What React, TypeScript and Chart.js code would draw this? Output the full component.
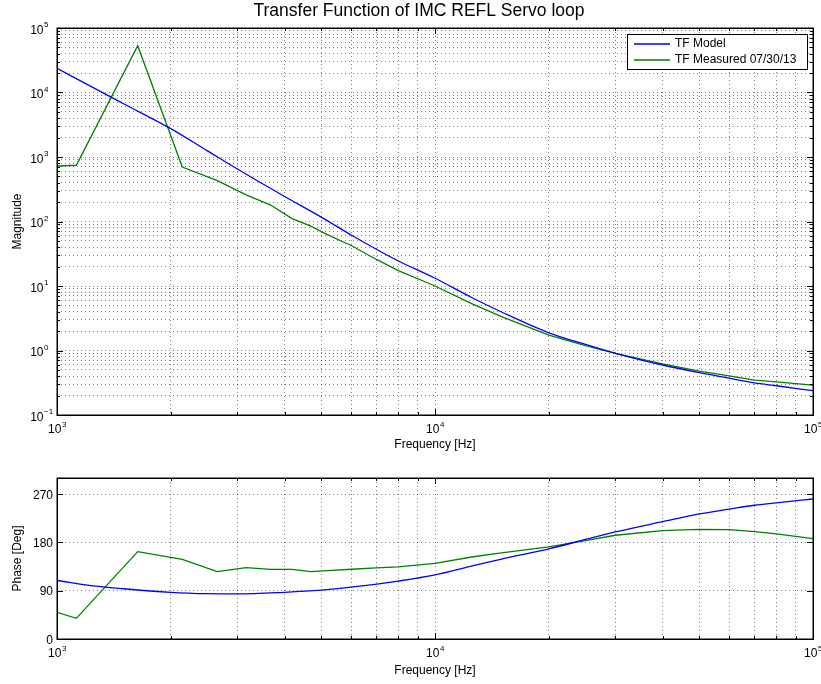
import React, { useEffect, useRef } from "react";
import { Chart, registerables } from "chart.js";

Chart.register(...registerables);

const TITLE = "Transfer Function of IMC REFL Servo loop";
const X_LABEL = "Frequency [Hz]";
const MAG_LABEL = "Magnitude";
const PHASE_LABEL = "Phase [Deg]";
const SERIES_NAMES = ["TF Model", "TF Measured 07/30/13"];

// Model transfer function (blue)
const modelFreq = [1000, 1250, 1500, 2000, 2500, 3000, 4000, 5000, 6000, 8000, 10000, 12500, 15000, 20000, 25000, 30000, 40000, 50000, 60000, 70000, 80000, 100000];
const modelMag = [23700, 11800, 6700, 2750, 1245, 652, 244, 117, 61.8, 24.4, 13.2, 6.64, 3.95, 1.88, 1.24, 0.906, 0.596, 0.453, 0.372, 0.315, 0.284, 0.238];
const modelPhase = [109, 99, 93.6, 87, 84.4, 83.9, 87, 91, 96.5, 108, 119.3, 135.8, 148.9, 168, 185.5, 199.5, 218.6, 233, 241.9, 249.2, 253.6, 260.9];

// Measured transfer function 07/30/13 (green)
const measFreq = [1000, 1125, 1635, 2145, 2655, 3165, 3675, 4185, 4695, 5205, 6000, 7000, 8000, 10000, 12500, 15000, 20000, 25000, 30000, 40000, 50000, 60000, 70000, 80000, 100000];
const measMag = [725, 745, 53200, 700, 430, 258, 180, 111, 85, 62, 42.5, 25.8, 17.3, 10.0, 5.33, 3.34, 1.73, 1.19, 0.9, 0.618, 0.48, 0.404, 0.347, 0.326, 0.29];
const measPhase = [49.7, 38.5, 162.7, 148.5, 125.4, 132.9, 129.8, 129.8, 125.5, 127.4, 130, 132.5, 134.5, 141, 152.8, 160.6, 171.5, 183.5, 193.3, 201.8, 204.4, 203.7, 200, 195.8, 186.9];

// Axis ticks
const xDecades = [3, 4, 5];
const magDecades = [-1, 0, 1, 2, 3, 4, 5];
const phaseTicks = [0, 90, 180, 270];
const phaseMin = 0;
const phaseMax = 300;

const FONT = "'Liberation Sans', Arial, Helvetica, sans-serif";
const BLUE = "#0000ff";
const GREEN = "#008000";
const GRID = "rgba(0,0,0,0.5)";

function logTickValues(decades: number[]): number[] {
  const vals: number[] = [];
  for (let i = 0; i < decades.length - 1; i++) {
    for (let k = 1; k <= 9; k++) vals.push(k * Math.pow(10, decades[i]));
  }
  vals.push(Math.pow(10, decades[decades.length - 1]));
  return vals;
}

function isDecade(v: number) {
  const l = Math.log10(v);
  return Math.abs(l - Math.round(l)) < 1e-9;
}

function drawPow(ctx: CanvasRenderingContext2D, exp: number, x: number, y: number, mode: "center" | "right", expDy: number) {
  const base = "10";
  const e = exp < 0 ? "\u2212" + Math.abs(exp) : String(exp);
  ctx.font = `12px ${FONT}`;
  const bw = ctx.measureText(base).width;
  ctx.font = `8px ${FONT}`;
  const ew = ctx.measureText(e).width;
  const bx = mode === "center" ? x - (bw + ew) / 2 : x - bw;
  ctx.textAlign = "left";
  ctx.textBaseline = "alphabetic";
  ctx.fillStyle = "#000";
  ctx.font = `12px ${FONT}`;
  ctx.fillText(base, bx, y);
  ctx.font = `8px ${FONT}`;
  ctx.fillText(e, bx + bw + 0.5, y - expDy);
}

function drawFrame(chart: any, yIsLog: boolean) {
  const { ctx, chartArea } = chart;
  const { left, right, top, bottom } = chartArea;
  const xs = chart.scales.x;
  const ys = chart.scales.y;
  ctx.save();
  ctx.strokeStyle = "#000";
  ctx.lineWidth = 1;
  // tick marks inward
  ctx.beginPath();
  xs.ticks.forEach((t: any) => {
    const px = Math.round(xs.getPixelForValue(t.value)) + 0.5;
    const len = isDecade(t.value) ? 6 : 3;
    ctx.moveTo(px, bottom);
    ctx.lineTo(px, bottom - len);
    ctx.moveTo(px, top);
    ctx.lineTo(px, top + len);
  });
  ys.ticks.forEach((t: any) => {
    const py = Math.round(ys.getPixelForValue(t.value)) + 0.5;
    const len = yIsLog ? (isDecade(t.value) ? 6 : 3) : 6;
    ctx.moveTo(left, py);
    ctx.lineTo(left + len, py);
    ctx.moveTo(right, py);
    ctx.lineTo(right - len, py);
  });
  ctx.stroke();
  // box
  ctx.lineWidth = 1.5;
  ctx.strokeRect(Math.round(left) + 0.25, Math.round(top) + 0.25, Math.round(right - left), Math.round(bottom - top));
  // x tick labels
  xs.ticks.forEach((t: any) => {
    if (!isDecade(t.value)) return;
    const px = xs.getPixelForValue(t.value);
    drawPow(ctx, Math.round(Math.log10(t.value)), px, bottom + 18, "center", 6);
  });
  // y tick labels
  ys.ticks.forEach((t: any) => {
    const py = ys.getPixelForValue(t.value);
    if (yIsLog) {
      if (!isDecade(t.value)) return;
      drawPow(ctx, Math.round(Math.log10(t.value)), 43.5, py + 5.5, "right", 6.5);
    } else {
      ctx.font = `12px ${FONT}`;
      ctx.fillStyle = "#000";
      ctx.textAlign = "right";
      ctx.textBaseline = "alphabetic";
      ctx.fillText(String(t.value), 53, py + 4.5);
    }
  });
  ctx.restore();
}

const magPlugin = {
  id: "magFrame",
  afterDraw(chart: any) {
    drawFrame(chart, true);
    const { ctx } = chart;
    ctx.save();
    // title
    ctx.font = `17.5px ${FONT}`;
    ctx.fillStyle = "#000";
    ctx.textAlign = "center";
    ctx.textBaseline = "alphabetic";
    ctx.fillText(TITLE, 419, 16);
    // legend
    const lx = 627, ly = 34, lw = 180, lh = 35;
    ctx.fillStyle = "#fff";
    ctx.fillRect(lx, ly, lw, lh);
    ctx.strokeStyle = "#000";
    ctx.lineWidth = 1;
    ctx.strokeRect(lx + 0.5, ly + 0.5, lw, lh);
    const colors = [BLUE, GREEN];
    const rows = [44, 60];
    SERIES_NAMES.forEach((name, i) => {
      ctx.strokeStyle = colors[i];
      ctx.lineWidth = 1.3;
      ctx.beginPath();
      ctx.moveTo(634, rows[i]);
      ctx.lineTo(670, rows[i]);
      ctx.stroke();
      ctx.fillStyle = "#000";
      ctx.font = `12px ${FONT}`;
      ctx.textAlign = "left";
      ctx.textBaseline = "middle";
      ctx.fillText(name, 675, rows[i]);
    });
    ctx.restore();
  },
};

const phasePlugin = {
  id: "phaseFrame",
  afterDraw(chart: any) {
    drawFrame(chart, false);
  },
};

function lineDataset(label: string, xs: number[], ys: number[], color: string, smooth: boolean) {
  return {
    label,
    data: xs.map((f, i) => ({ x: f, y: ys[i] })),
    borderColor: color,
    backgroundColor: color,
    borderWidth: 1.3,
    pointRadius: 0,
    fill: false,
    tension: 0,
    cubicInterpolationMode: smooth ? "monotone" : "default",
  };
}

function xScale(titlePadBottom: number) {
  const vals = logTickValues(xDecades);
  return {
    type: "logarithmic" as const,
    min: Math.pow(10, xDecades[0]),
    max: Math.pow(10, xDecades[xDecades.length - 1]),
    afterBuildTicks: (s: any) => {
      s.ticks = vals.map((v) => ({ value: v, major: isDecade(v) }));
    },
    afterFit: (s: any) => {
      s.height = 45;
    },
    ticks: { display: false },
    grid: { color: GRID, drawTicks: false, lineWidth: 1 },
    border: { display: false, dash: [1, 3] },
    title: {
      display: true,
      text: X_LABEL,
      color: "#000",
      font: { family: FONT, size: 12 },
      padding: { top: 0, bottom: titlePadBottom },
    },
  };
}

export default function App() {
  const magRef = useRef<HTMLCanvasElement>(null);
  const phaseRef = useRef<HTMLCanvasElement>(null);

  useEffect(() => {
    const magVals = logTickValues(magDecades);
    const magChart = new Chart(magRef.current as HTMLCanvasElement, {
      type: "line",
      data: {
        datasets: [
          lineDataset(SERIES_NAMES[0], modelFreq, modelMag, BLUE, true),
          lineDataset(SERIES_NAMES[1], measFreq, measMag, GREEN, false),
        ],
      },
      options: {
        responsive: false,
        animation: false,
        layout: { padding: { top: 28, right: 8, left: 0, bottom: 0 } },
        plugins: { legend: { display: false }, tooltip: { enabled: false }, title: { display: false } },
        scales: {
          x: xScale(8),
          y: {
            type: "logarithmic",
            min: Math.pow(10, magDecades[0]),
            max: Math.pow(10, magDecades[magDecades.length - 1]),
            afterBuildTicks: (s: any) => {
              s.ticks = magVals.map((v) => ({ value: v, major: isDecade(v) }));
            },
            afterFit: (s: any) => {
              s.width = 57;
            },
            ticks: { display: false },
            grid: { color: GRID, drawTicks: false, lineWidth: 1 },
            border: { display: false, dash: [1, 3] },
            title: {
              display: true,
              text: MAG_LABEL,
              color: "#000",
              font: { family: FONT, size: 12 },
              padding: { top: 10, bottom: 0 },
            },
          },
        },
      } as any,
      plugins: [magPlugin],
    });

    const phaseChart = new Chart(phaseRef.current as HTMLCanvasElement, {
      type: "line",
      data: {
        datasets: [
          lineDataset(SERIES_NAMES[0], modelFreq, modelPhase, BLUE, true),
          lineDataset(SERIES_NAMES[1], measFreq, measPhase, GREEN, false),
        ],
      },
      options: {
        responsive: false,
        animation: false,
        layout: { padding: { top: 18, right: 8, left: 0, bottom: 0 } },
        plugins: { legend: { display: false }, tooltip: { enabled: false }, title: { display: false } },
        scales: {
          x: xScale(6),
          y: {
            type: "linear",
            min: phaseMin,
            max: phaseMax,
            afterBuildTicks: (s: any) => {
              s.ticks = phaseTicks.map((v) => ({ value: v }));
            },
            afterFit: (s: any) => {
              s.width = 57;
            },
            ticks: { display: false },
            grid: { color: GRID, drawTicks: false, lineWidth: 1 },
            border: { display: false, dash: [1, 3] },
            title: {
              display: true,
              text: PHASE_LABEL,
              color: "#000",
              font: { family: FONT, size: 12 },
              padding: { top: 10, bottom: 0 },
            },
          },
        },
      } as any,
      plugins: [phasePlugin],
    });

    return () => {
      magChart.destroy();
      phaseChart.destroy();
    };
  }, []);

  return (
    <div style={{ position: "absolute", left: 0, top: 0, width: 821, height: 684, background: "#fff" }}>
      <canvas ref={magRef} width={821} height={460} style={{ position: "absolute", left: 0, top: 0, display: "block" }} />
      <canvas ref={phaseRef} width={821} height={224} style={{ position: "absolute", left: 0, top: 460, display: "block" }} />
    </div>
  );
}
